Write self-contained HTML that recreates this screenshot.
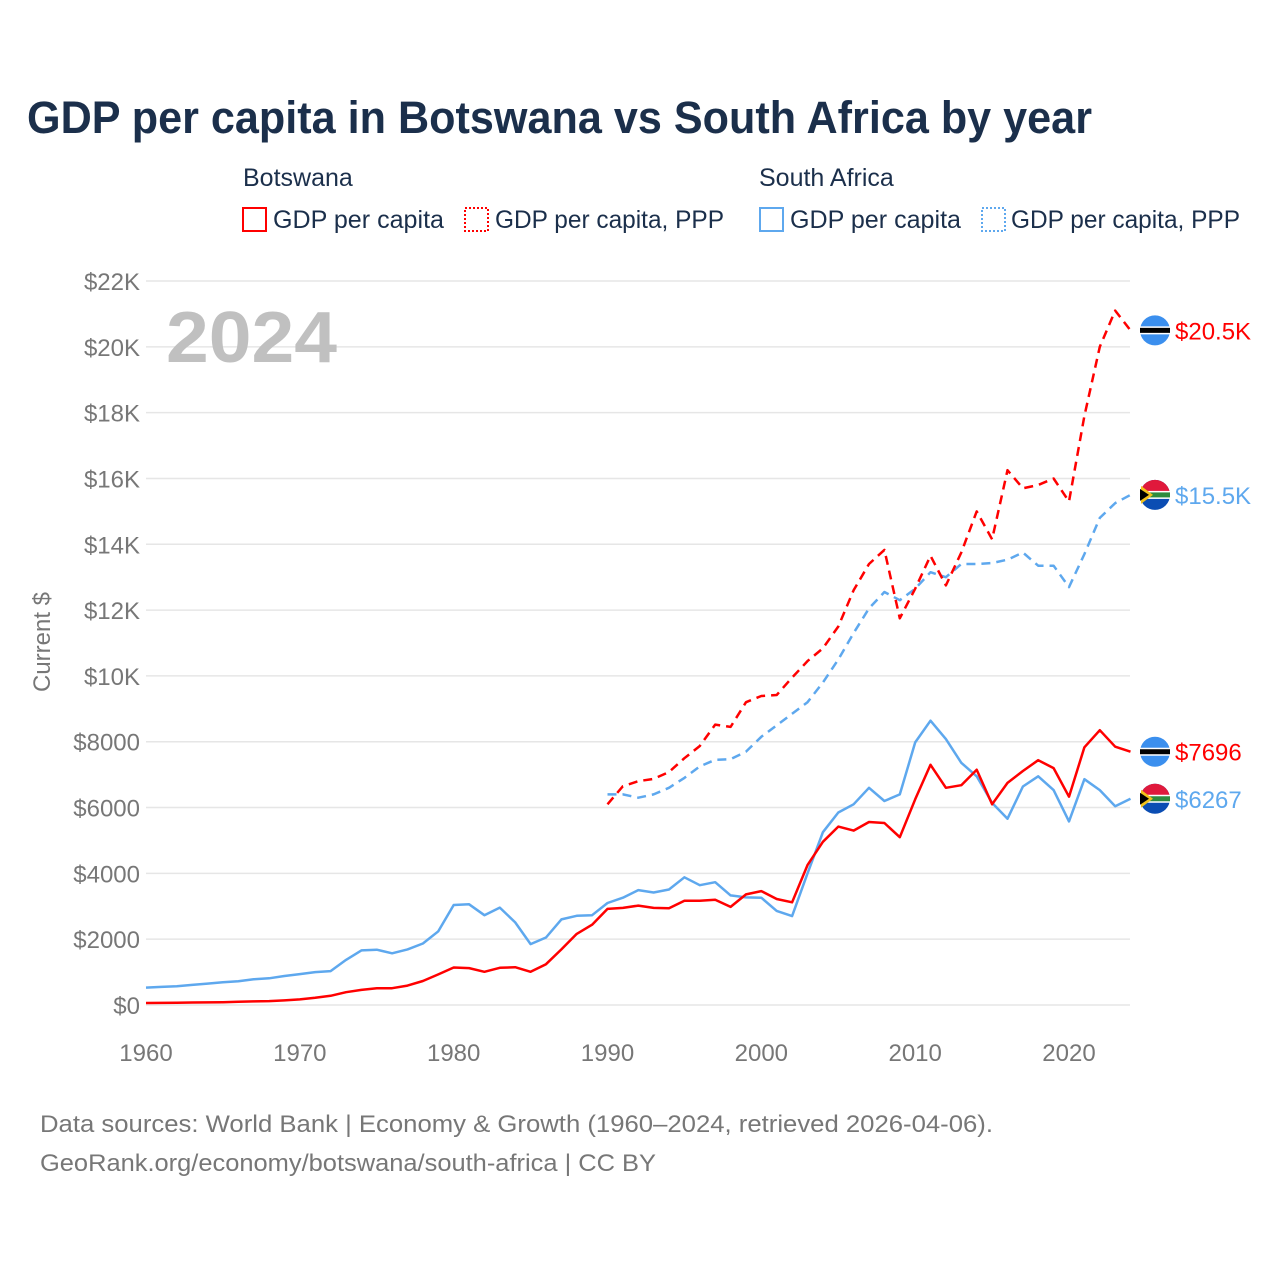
<!DOCTYPE html>
<html><head><meta charset="utf-8">
<style>
body{margin:0;background:#fff;}
svg{display:block;font-family:"Liberation Sans",sans-serif;}
</style></head>
<body>
<svg id="chart" width="1280" height="1280" viewBox="0 0 1280 1280">
<text x="27" y="133" font-size="45" font-weight="bold" fill="#1b2f4b" textLength="1065" lengthAdjust="spacingAndGlyphs">GDP per capita in Botswana vs South Africa by year</text>
<g font-size="25" fill="#1b2f4b">
<text x="243" y="186">Botswana</text>
<text x="759" y="186">South Africa</text>
<g><rect x="243" y="208" width="23" height="23" fill="none" stroke="#ff0000" stroke-width="2"/><text x="273" y="228" textLength="171" lengthAdjust="spacingAndGlyphs">GDP per capita</text></g>
<g><rect x="465" y="208" width="23" height="23" fill="none" stroke="#ff0000" stroke-width="2" stroke-dasharray="2,2"/><text x="495" y="228" textLength="229" lengthAdjust="spacingAndGlyphs">GDP per capita, PPP</text></g>
<g><rect x="760" y="208" width="23" height="23" fill="none" stroke="#5ea8ee" stroke-width="2"/><text x="790" y="228" textLength="171" lengthAdjust="spacingAndGlyphs">GDP per capita</text></g>
<g><rect x="982" y="208" width="23" height="23" fill="none" stroke="#5ea8ee" stroke-width="2" stroke-dasharray="2,2"/><text x="1011" y="228" textLength="229" lengthAdjust="spacingAndGlyphs">GDP per capita, PPP</text></g>
</g>
<g id="grid"></g>
<g id="axes"></g>
<text x="166" y="362" font-size="72" font-weight="bold" fill="#c0c0c0" textLength="171" lengthAdjust="spacingAndGlyphs">2024</text>
<text transform="translate(50,642) rotate(-90)" text-anchor="middle" font-size="24" fill="#777">Current $</text>
<g id="series"></g>
<g id="endmarks"></g>
<text x="40" y="1132" font-size="24" fill="#777" textLength="953" lengthAdjust="spacingAndGlyphs">Data sources: World Bank | Economy &amp; Growth (1960–2024, retrieved 2026-04-06).</text>
<text x="40" y="1171" font-size="24" fill="#777" textLength="616" lengthAdjust="spacingAndGlyphs">GeoRank.org/economy/botswana/south-africa | CC BY</text>
</svg>
<script>
const yearsAll = [];
for (let y = 1960; y <= 2024; y++) yearsAll.push(y);
const yTicks = [0,2000,4000,6000,8000,10000,12000,14000,16000,18000,20000,22000];
const yTickLabels = ["$0","$2000","$4000","$6000","$8000","$10K","$12K","$14K","$16K","$18K","$20K","$22K"];
const xTicks = [1960,1970,1980,1990,2000,2010,2020];
const bwGdp = [60,65,70,75,80,85,100,110,120,140,170,220,280,390,460,510,510,590,730,930,1140,1120,1010,1130,1150,1010,1240,1690,2160,2440,2920,2950,3020,2950,2940,3170,3170,3200,2980,3360,3460,3220,3120,4250,4960,5420,5300,5560,5530,5100,6250,7300,6600,6680,7150,6100,6750,7110,7440,7200,6330,7830,8350,7850,7696];
const saGdp = [530,550,570,610,650,690,720,780,810,880,940,1000,1030,1370,1660,1680,1570,1690,1870,2240,3040,3060,2730,2960,2510,1850,2050,2600,2710,2730,3100,3260,3490,3420,3510,3880,3640,3730,3330,3270,3260,2860,2700,4000,5250,5850,6100,6600,6200,6400,7980,8640,8080,7360,6950,6140,5660,6640,6950,6530,5580,6860,6530,6040,6267];
const pppYears = [];
for (let y = 1990; y <= 2024; y++) pppYears.push(y);
const bwPpp = [6100,6650,6800,6870,7080,7500,7870,8520,8450,9200,9390,9420,9950,10450,10840,11500,12600,13400,13830,11750,12650,13650,12750,13750,15000,14150,16250,15700,15800,16000,15300,17900,20000,21100,20500];
const saPpp = [6400,6400,6300,6400,6600,6900,7250,7450,7470,7700,8150,8500,8850,9200,9800,10500,11300,12050,12550,12300,12650,13150,13000,13400,13400,13430,13530,13750,13350,13350,12700,13700,14800,15250,15500];
const endLabels = ["$20.5K","$15.5K","$7696","$6267"];

const NS = "http://www.w3.org/2000/svg";
const x = yr => 146 + (yr - 1960) * (1069 - 146) / 60;
const y = v => 1005 - v * (1005 - 281) / 22000;
function el(tag, attrs, parent) {
  const e = document.createElementNS(NS, tag);
  for (const k in attrs) e.setAttribute(k, attrs[k]);
  parent.appendChild(e);
  return e;
}
const grid = document.getElementById('grid'), axes = document.getElementById('axes');
yTicks.forEach((t, i) => {
  const l = el('line', {x1: 146, x2: 1130, y1: y(t), y2: y(t), stroke: '#e6e6e6', 'stroke-width': 1.5}, grid);
  
  
  const tx = el('text', {x: 140, y: y(t) + 9, 'text-anchor': 'end', 'font-size': 24, fill: '#777'}, axes);
  tx.textContent = yTickLabels[i];
  
  
});
xTicks.forEach(t => {
  const tx = el('text', {x: x(t), y: 1061, 'text-anchor': 'middle', 'font-size': 24, fill: '#777'}, axes);
  tx.textContent = t;
  
  
});
const series = document.getElementById('series');
function line(yrs, vals, color, dash, name) {
  const d = vals.map((v, i) => (i ? 'L' : 'M') + x(yrs[i]).toFixed(1) + ',' + y(v).toFixed(1)).join('');
  const p = el('path', {d: d, fill: 'none', stroke: color, 'stroke-width': 2.5, 'stroke-linejoin': 'round'}, series);
  if (dash) p.setAttribute('stroke-dasharray', '9,6');
  
  
}
const RED = '#ff0000', BLUE = '#5ea8ee';
line(pppYears, saPpp, BLUE, true, 'line-south-africa-ppp');
line(pppYears, bwPpp, RED, true, 'line-botswana-ppp');
line(yearsAll, saGdp, BLUE, false, 'line-south-africa-gdp');
line(yearsAll, bwGdp, RED, false, 'line-botswana-gdp');

const em = document.getElementById('endmarks');
const ends = [[bwPpp[bwPpp.length-1], RED, 'bw'], [saPpp[saPpp.length-1], BLUE, 'za'], [bwGdp[bwGdp.length-1], RED, 'bw'], [saGdp[saGdp.length-1], BLUE, 'za']];
ends.forEach((e, i) => {
  const cy = y(e[0]), cx = 1155;
  const g = el('g', {}, em);
  
  
  if (e[2] === 'bw') {
    el('circle', {cx: cx, cy: cy, r: 15, fill: '#3b8fee'}, g);
    el('rect', {x: cx - 15, y: cy - 4, width: 30, height: 8, fill: '#fff'}, g);
    el('rect', {x: cx - 15, y: cy - 2.5, width: 30, height: 5, fill: '#000'}, g);
  } else {
    el('circle', {cx: cx, cy: cy, r: 15, fill: '#0b4db3'}, g);
    el('path', {d: `M${cx-15},${cy} A15,15 0 0 1 ${cx+15},${cy} Z`, fill: '#e0193c'}, g);
    el('rect', {x: cx - 15, y: cy - 4, width: 30, height: 8, fill: '#fff'}, g);
    el('rect', {x: cx - 15, y: cy - 2.5, width: 30, height: 5, fill: '#2e8b3e'}, g);
    el('path', {d: `M${cx-14},${cy-9} L${cx-2},${cy} L${cx-14},${cy+9} Z`, fill: '#f2c21b'}, g);
    el('path', {d: `M${cx-15},${cy-6} L${cx-6},${cy} L${cx-15},${cy+6} Z`, fill: '#000'}, g);
  }
  const t = el('text', {x: 1175, y: cy + 9, 'font-size': 24, fill: e[1]}, em);
  t.textContent = endLabels[i];
  
  
});
</script>
</body></html>
